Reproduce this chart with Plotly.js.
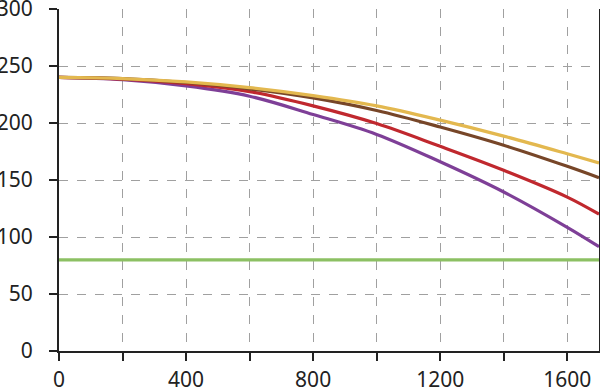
<!DOCTYPE html>
<html>
<head>
<meta charset="utf-8">
<script src="https://cdn.plot.ly/plotly-3.0.1.min.js"></script>
<style>html,body{margin:0;padding:0;background:#fff;}#chart{width:600px;height:391px;}</style>
</head>
<body>
<div id="chart"></div>
<script>
const xValues = [0, 200, 400, 600, 800, 1000, 1200, 1400, 1600, 1700];
const yellowSeries = [240, 239, 236, 231, 224, 215, 202.5, 188.5, 173, 165];
const brownSeries  = [240, 239, 235.5, 230, 222, 211, 196.5, 180.5, 162, 152];
const redSeries    = [240, 238.5, 234.5, 227.5, 215, 199.5, 179.5, 158.5, 135, 120];
const purpleSeries = [240, 238, 232.5, 223.5, 207.5, 190, 166, 139.5, 108.5, 91.5];
const greenX = [0, 1700];
const greenSeries = [80, 80];

const xTickVals = [0, 200, 400, 600, 800, 1000, 1200, 1400, 1600];
const xTickText = ['0', '', '400', '', '800', '', '1200', '', '1600'];
const yTickVals = [0, 50, 100, 150, 200, 250, 300];

function line(x, y, color) {
  return {x: x, y: y, type: 'scatter', mode: 'lines',
    line: {color: color, width: 3.2, shape: 'spline', smoothing: 1},
    hoverinfo: 'skip', showlegend: false};
}

const data = [
  line(greenX, greenSeries, '#8cc063'),
  line(xValues, purpleSeries, '#7e3f97'),
  line(xValues, redSeries, '#c0282e'),
  line(xValues, brownSeries, '#774628'),
  line(xValues, yellowSeries, '#e3b84f')
];

const layout = {
  width: 600, height: 391,
  margin: {l: 59, r: 1, t: 9, b: 40, pad: 0},
  paper_bgcolor: '#fff', plot_bgcolor: '#fff',
  font: {family: '"Noto Sans", "Open Sans", sans-serif', size: 21, color: '#222'},
  showlegend: false,
  xaxis: {
    range: [0, 1700], tickmode: 'array', tickvals: xTickVals, ticktext: xTickText,
    showgrid: true, gridcolor: '#a0a0a0', griddash: 'dash', gridwidth: 1,
    showline: true, linecolor: '#222', linewidth: 2,
    ticks: 'outside', ticklen: 8, tickwidth: 2, tickcolor: '#222',
    ticklabelstandoff: 1, ticklabeloverflow: 'allow', zeroline: false, fixedrange: true
  },
  yaxis: {
    range: [0, 300], tickmode: 'array', tickvals: yTickVals,
    showgrid: true, gridcolor: '#a0a0a0', griddash: 'dash', gridwidth: 1,
    showline: true, linecolor: '#222', linewidth: 2, mirror: true,
    ticks: 'outside', ticklen: 8, tickwidth: 2, tickcolor: '#222',
    ticklabelstandoff: 12, ticklabeloverflow: 'allow', zeroline: false, fixedrange: true
  }
};

Plotly.newPlot('chart', data, layout, {staticPlot: true, displayModeBar: false});
</script>
</body>
</html>
